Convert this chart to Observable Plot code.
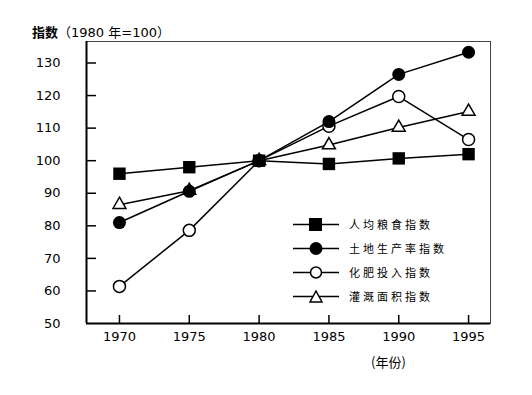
<!DOCTYPE html>
<html><head><meta charset="utf-8">
<script src="https://cdn.jsdelivr.net/npm/d3@7"></script>
<script src="https://cdn.jsdelivr.net/npm/@observablehq/plot@0.6"></script>
<style>
body{margin:0;background:#fff;font-family:"DejaVu Sans","Noto Sans CJK SC",sans-serif;}
#wrap{position:relative;width:532px;height:395px;}
.lbl{position:absolute;font-size:13px;color:#000;white-space:nowrap;line-height:1;}
.leg{position:absolute;left:293px;display:flex;align-items:center;font-size:11px;letter-spacing:3px;font-family:"Noto Sans CJK SC",sans-serif;}
.leg svg{margin-right:10px}
</style></head>
<body><div id="wrap"></div>
<script>
const years = [1970, 1975, 1980, 1985, 1990, 1995];
const seriesNames = ["人均粮食指数", "土地生产率指数", "化肥投入指数", "灌溉面积指数"];
const grainPerCapita = [96, 98, 100, 99, 100.7, 102];
const landProductivity = [81, 90.6, 100, 112, 126.5, 133.3];
const fertilizerInput = [61.4, 78.6, 100, 110.6, 119.7, 106.5];
const irrigatedArea = [86.5, 90.8, 100, 104.8, 110.2, 115.1];
const yTicks = [50, 60, 70, 80, 90, 100, 110, 120, 130];
const yTickMarks = [60, 70, 80, 90, 100, 110, 120, 130];

const allSeries = [grainPerCapita, landProductivity, fertilizerInput, irrigatedArea];
const data = [];
allSeries.forEach((vals, i) => vals.forEach((v, j) => data.push({series: seriesNames[i], year: years[j], value: v})));
const bySeries = name => data.filter(d => d.series === name);

const W = 532, H = 395, mL = 86, mR = 42, mT = 41, mB = 72;
const pw = W - mL - mR, ph = H - mT - mB;

const chart = Plot.plot({
  width: W, height: H,
  marginLeft: mL, marginRight: mR, marginTop: mT, marginBottom: mB,
  style: {fontFamily: '"DejaVu Sans", sans-serif', fontSize: "13px", color: "#000", background: "#fff"},
  x: {domain: [1967.64, 1996.57], axis: null, label: null},
  y: {domain: [50, 136.6], axis: null, label: null},
  marks: [
    Plot.frame({stroke: "#444", strokeWidth: 1}),
    Plot.axisX(years, {tickSize: 0, tickPadding: 8, tickFormat: d => String(d), fontSize: 13, label: null}),
    Plot.axisY(yTicks, {tickSize: 0, tickPadding: 26, fontSize: 13, label: null}),
    Plot.tickX(years, {x: d => d, insetTop: ph - 8, stroke: "#000", strokeWidth: 1.5}),
    Plot.tickY(yTickMarks, {y: d => d, insetRight: pw - 10, stroke: "#000", strokeWidth: 1.5}),
    Plot.ruleX([1967.64], {stroke: "#000", strokeWidth: 2}),
    Plot.ruleY([50], {stroke: "#000", strokeWidth: 2}),
    ...seriesNames.map(n => Plot.line(bySeries(n), {x: "year", y: "value", stroke: "#000", strokeWidth: 1.5})),
    Plot.dot(bySeries(seriesNames[2]), {x: "year", y: "value", symbol: "circle", r: 6, fill: "#fff", stroke: "#000", strokeWidth: 1.5}),
    Plot.dot(bySeries(seriesNames[3]), {x: "year", y: "value", symbol: "triangle", r: 4.8, fill: "#fff", stroke: "#000", strokeWidth: 1.5}),
    Plot.dot(bySeries(seriesNames[0]), {x: "year", y: "value", symbol: "square", r: 7, fill: "#000"}),
    Plot.dot(bySeries(seriesNames[1]), {x: "year", y: "value", symbol: "circle", r: 6.5, fill: "#000"})
  ]
});
const wrap = document.getElementById("wrap");
wrap.appendChild(chart);

function addLabel(html, left, top) {
  const d = document.createElement("div");
  d.className = "lbl"; d.innerHTML = html;
  d.style.left = left + "px"; d.style.top = top + "px";
  wrap.appendChild(d);
}
addLabel('<b style="font-family:\'Noto Sans CJK SC\'">指数</b><span style="font-family:\'Noto Sans CJK SC\'">（</span>1980 <span style="font-family:\'Noto Sans CJK SC\'">年</span>=100<span style="font-family:\'Noto Sans CJK SC\'">）</span>', 32, 25);
addLabel('<span style="font-family:\'Noto Sans CJK SC\'">(年份)</span>', 371, 355);

const symbols = [
  '<rect x="16" y="1" width="13" height="13" fill="#000"/>',
  '<circle cx="23" cy="7.5" r="6.5" fill="#000"/>',
  '<circle cx="23" cy="7.5" r="5.5" fill="#fff" stroke="#000" stroke-width="1.5"/>',
  '<path d="M23,2 L29,13 L17,13 Z" fill="#fff" stroke="#000" stroke-width="1.5"/>'
];
const rowY = [224, 248, 272, 296];
seriesNames.forEach((n, i) => {
  const d = document.createElement("div");
  d.className = "leg";
  d.style.top = (rowY[i] - 8) + "px";
  d.innerHTML = `<svg width="46" height="15"><line x1="0" y1="7.5" x2="46" y2="7.5" stroke="#000" stroke-width="1.5"/>${symbols[i]}</svg><span>${n}</span>`;
  wrap.appendChild(d);
});
</script></body></html>
